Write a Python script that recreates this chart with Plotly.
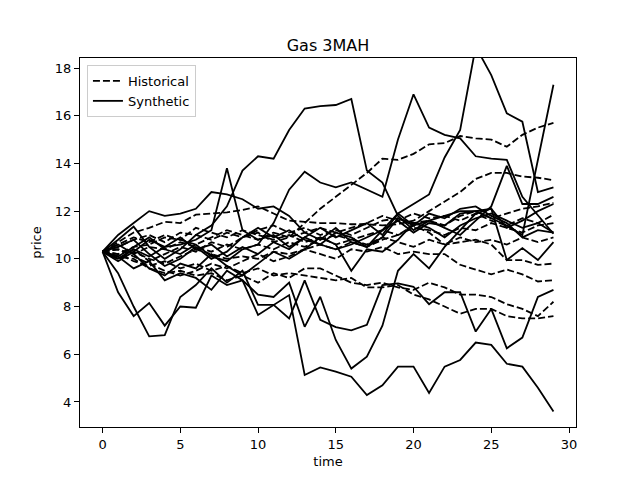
import plotly.graph_objects as go

# --- data ---
time = list(range(30))

hist_1 = [10.3, 10.0, 10.4, 9.9, 10.2, 10.5, 10.3, 10.7, 10.5, 10.9, 11.1, 10.7, 10.9, 11.5, 12.1,
          12.6, 13.1, 13.6, 14.2, 14.15, 14.4, 14.8, 14.85, 15.15, 15.05, 15.0, 14.7, 15.2, 15.5, 15.7]
hist_2 = [10.3, 10.7, 11.1, 11.3, 11.55, 11.5, 11.85, 11.9, 11.95, 12.05, 12.2, 11.9, 11.6, 11.55, 11.5,
          11.5, 11.45, 11.45, 11.4, 11.45, 11.6, 12.0, 12.4, 12.8, 13.35, 13.6, 13.6, 13.45, 13.4, 13.3]
hist_3 = [10.3, 10.5, 10.8, 11.0, 10.7, 11.1, 11.0, 10.8, 11.1, 10.9, 11.2, 11.4, 11.1, 11.3, 11.0,
          11.2, 11.0, 11.3, 11.6, 11.7, 11.5, 11.6, 11.4, 11.8, 12.0, 11.7, 11.9, 12.1, 12.2, 12.35]
hist_4 = [10.3, 10.2, 10.5, 10.6, 10.9, 10.8, 10.6, 10.9, 11.2, 11.0, 10.8, 11.1, 10.9, 11.1, 11.3,
          11.1, 11.3, 11.5, 11.8, 11.6, 11.9, 11.7, 11.8, 11.6, 11.9, 11.6, 11.4, 11.7, 11.5, 11.85]
hist_5 = [10.3, 10.4, 10.2, 10.5, 10.4, 10.7, 10.5, 10.3, 10.6, 10.4, 10.6, 10.4, 10.7, 10.5, 10.8,
          11.0, 10.8, 11.0, 11.2, 11.0, 11.3, 11.2, 11.0, 11.3, 11.2, 11.5, 11.3, 11.1, 11.4, 11.5]
hist_6 = [10.3, 10.4, 10.1, 9.8, 9.5, 9.3, 9.5, 9.8, 9.6, 9.9, 10.2, 9.9, 10.1, 10.4, 10.6,
          10.4, 10.7, 10.5, 10.8, 11.0, 11.4, 11.1, 10.6, 10.7, 10.8, 10.6, 9.95, 9.95, 9.75, 9.8]
hist_7 = [10.3, 10.0, 10.3, 10.0, 9.8, 10.1, 10.4, 10.2, 10.0, 10.1, 10.0, 10.3, 10.2, 10.4, 10.2,
          10.0, 10.4, 10.3, 10.5, 10.2, 10.3, 10.2, 10.2, 9.75, 9.55, 9.35, 9.55, 9.35, 9.05, 9.1]
hist_8 = [10.3, 10.1, 10.0, 9.6, 9.4, 9.5, 9.3, 9.4, 9.1, 9.3, 9.0, 9.4, 9.2, 9.6, 9.6,
          9.3, 9.0, 8.9, 9.0, 8.8, 8.7, 9.0, 8.8, 8.5, 8.5, 8.4, 8.1, 7.9, 7.6, 8.2]
hist_9 = [10.3, 10.2, 9.9, 9.7, 9.9, 9.6, 9.8, 9.5, 9.7, 9.4, 9.6, 9.3, 9.4, 9.3, 9.2,
          9.1, 9.2, 8.8, 8.8, 8.9, 8.5, 8.3, 8.0, 7.7, 7.9, 7.9, 7.6, 7.5, 7.5, 7.6]
hist_10 = [10.3, 10.6, 10.9, 10.7, 11.0, 10.8, 11.3, 11.1, 10.9, 11.2, 11.0, 10.8, 11.0, 10.7, 10.9,
           10.6, 10.8, 10.6, 10.9, 10.7, 10.5, 10.8, 10.6, 10.9, 10.7, 10.8, 10.6, 10.9, 10.7, 10.9]

syn_1 = [10.3, 10.8, 11.35, 10.5, 10.0, 10.4, 11.0, 11.4, 12.2, 13.7, 14.3, 14.2, 15.4, 16.3, 16.4,
         16.45, 16.7, 13.7, 13.2, 11.8, 11.2, 11.6, 11.8, 12.0, 12.0, 12.1, 11.3, 11.6, 12.0, 12.3]
syn_2 = [10.3, 10.1, 10.5, 10.9, 10.4, 10.2, 10.6, 10.1, 9.9, 10.4, 10.6, 11.5, 12.9, 13.65, 13.2,
         13.0, 13.2, 12.9, 12.6, 15.0, 16.9, 15.5, 15.2, 15.05, 14.3, 14.2, 14.15, 12.6, 11.8, 11.05]
syn_3 = [10.3, 10.5, 10.8, 10.2, 9.7, 10.0, 10.5, 10.0, 10.3, 10.9, 11.3, 10.9, 11.2, 10.8, 10.6,
         11.1, 10.9, 10.5, 11.2, 11.9, 12.3, 12.7, 14.25, 15.4, 18.9, 17.7, 16.1, 15.75, 12.8, 13.0]
syn_4 = [10.3, 9.9, 10.3, 10.8, 10.5, 10.9, 10.4, 10.6, 10.1, 10.5, 10.2, 10.7, 10.4, 10.9, 10.6,
         10.4, 10.6, 10.9, 11.2, 11.6, 11.1, 11.5, 11.4, 11.9, 12.0, 11.7, 11.4, 11.0, 14.1, 17.3]
syn_5 = [10.3, 10.0, 10.4, 10.1, 10.5, 10.6, 10.8, 11.2, 13.8, 11.2, 10.8, 11.0, 10.5, 10.9, 11.3,
         10.9, 11.2, 11.5, 11.0, 11.9, 11.4, 11.6, 11.3, 11.0, 11.6, 12.2, 13.9, 12.3, 12.3, 12.6]
syn_6 = [10.3, 11.0, 11.5, 12.0, 11.8, 11.9, 12.1, 12.8, 12.7, 12.5, 12.1, 12.2, 11.8, 11.1, 10.8,
         11.3, 10.7, 10.5, 10.9, 11.7, 11.4, 11.9, 11.7, 12.1, 12.2, 11.8, 11.5, 10.9, 11.2, 11.1]
syn_7 = [10.3, 8.6, 7.6, 8.15, 7.2, 8.0, 7.95, 9.3, 8.9, 9.1, 7.65, 8.07, 8.48, 5.13, 5.45,
         5.27, 5.06, 4.29, 4.7, 5.48, 5.48, 4.38, 5.48, 5.76, 6.49, 6.39, 5.6, 5.48, 4.6, 3.6]
syn_8 = [10.3, 9.4, 8.0, 6.75, 6.8, 8.4, 8.9, 9.6, 9.0, 9.5, 8.07, 8.07, 7.5, 9.1, 7.44,
         7.14, 7.0, 7.23, 8.9, 8.97, 8.83, 8.1, 8.6, 8.6, 6.95, 7.9, 6.25, 6.7, 8.4, 8.7]
syn_9 = [10.3, 10.1, 9.6, 9.9, 9.1, 9.4, 9.2, 8.7, 9.5, 9.1, 8.5, 8.4, 9.0, 7.15, 8.41,
         6.6, 5.4, 5.9, 7.2, 9.5, 10.2, 9.6, 10.5, 11.2, 11.9, 12.1, 9.95, 10.45, 9.95, 10.7]
syn_10 = [10.3, 10.6, 10.2, 9.6, 9.3, 9.8, 9.6, 10.2, 9.7, 9.3, 9.8, 10.3, 10.0, 10.4, 10.9,
          10.6, 9.5, 10.4, 10.3, 10.8, 11.5, 11.3, 10.9, 11.4, 11.7, 11.9, 11.6, 11.3, 11.5, 11.1]

historical = [hist_1, hist_2, hist_3, hist_4, hist_5, hist_6, hist_7, hist_8, hist_9, hist_10]
synthetic = [syn_1, syn_2, syn_3, syn_4, syn_5, syn_6, syn_7, syn_8, syn_9, syn_10]

FONT = "DejaVu Sans"
# the page body has an 8px margin, so the figure is made 8px smaller each way
W, H = 632, 472

fig = go.Figure()

# dashed = historical paths, solid = synthetic paths
for k, ys in enumerate(historical):
    fig.add_trace(go.Scatter(
        x=time, y=ys, mode="lines", name="Historical", legendgroup="hist",
        showlegend=(k == 0), line=dict(color="black", width=1.8, dash="7px,3px")))

for k, ys in enumerate(synthetic):
    fig.add_trace(go.Scatter(
        x=time, y=ys, mode="lines", name="Synthetic", legendgroup="syn",
        showlegend=(k == 0), line=dict(color="black", width=1.8)))

axis_style = dict(showgrid=False, zeroline=False, showline=True, linecolor="black",
                  linewidth=1, mirror=True, ticks="outside", ticklen=5, tickcolor="black",
                  automargin=False,
                  tickfont=dict(family=FONT, size=13, color="black"))

fig.update_xaxes(range=[-1.45, 30.45], tickvals=[0, 5, 10, 15, 20, 25, 30],
                 title=dict(text="time", font=dict(family=FONT, size=13, color="black"), standoff=6),
                 **axis_style)
fig.update_yaxes(range=[2.95, 18.42], tickvals=[4, 6, 8, 10, 12, 14, 16, 18],
                 title=dict(text="price", font=dict(family=FONT, size=13, color="black"), standoff=10),
                 **axis_style)

fig.update_layout(
    width=W, height=H,
    margin=dict(l=72, r=64, t=50, b=53, autoexpand=False),
    paper_bgcolor="white", plot_bgcolor="white",
    title=dict(text="Gas 3MAH", x=0.5, xref="paper", y=1 - 37 / H, yanchor="middle",
               font=dict(family=FONT, size=16, color="black")),
    legend=dict(x=0.014, y=0.981, xanchor="left", yanchor="top",
                bgcolor="rgba(255,255,255,0.8)", bordercolor="#cccccc", borderwidth=1,
                font=dict(family=FONT, size=13, color="black"),
                tracegroupgap=0, itemwidth=30),
    showlegend=True,
)

fig.write_html("out.html")
